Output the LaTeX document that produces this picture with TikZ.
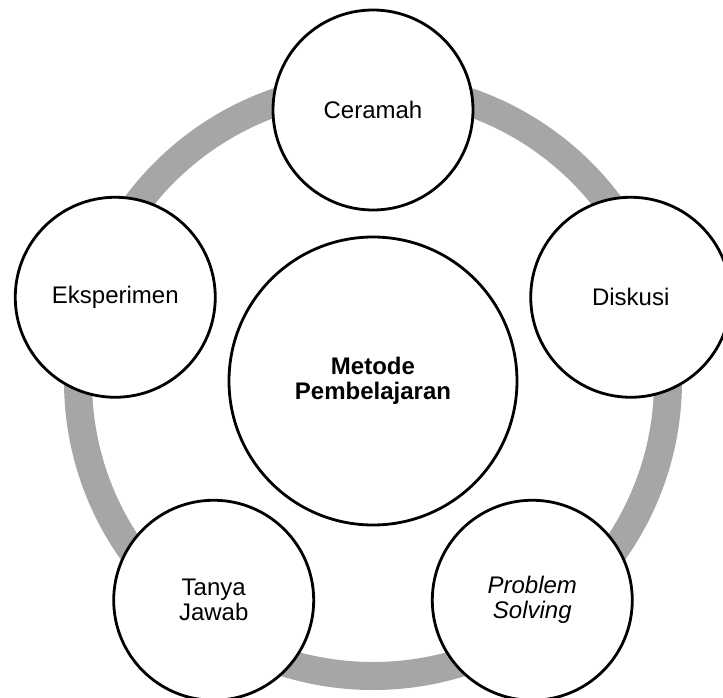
\documentclass[tikz,border=0pt]{standalone}
\usepackage{fontspec}
\setmainfont{Liberation Sans}
\definecolor{ringgray}{RGB}{166,166,166}
\tikzset{
  method/.style={circle,draw=black,line width=2.8pt,fill=white,
    minimum size=200pt,inner sep=0pt,align=center,
    font=\fontsize{24}{25}\selectfont},
}

\begin{document}
\begin{tikzpicture}[x=1pt,y=1pt]
\useasboundingbox (-373pt,-316pt) rectangle (350pt,381pt);
\draw[ringgray,line width=28pt] (0,0) circle (295pt); % grey cycle behind the methods
\node[method,minimum size=288pt,font=\fontsize{24}{25}\selectfont\bfseries] (centre) at (0,0) {Metode\\Pembelajaran};
\foreach[count=\xi] \x in {Ceramah,Diskusi,{\textit{Problem}\\\textit{Solving}},{Tanya\\Jawab},Eksperimen}{ %\xi is the counter, \x the label
\node[method] (method-\xi) at ({90-72*(\xi-1)}:271pt) {\x}; % one every 72 degrees, starting at the top
 }
\end{tikzpicture}
\end{document}
